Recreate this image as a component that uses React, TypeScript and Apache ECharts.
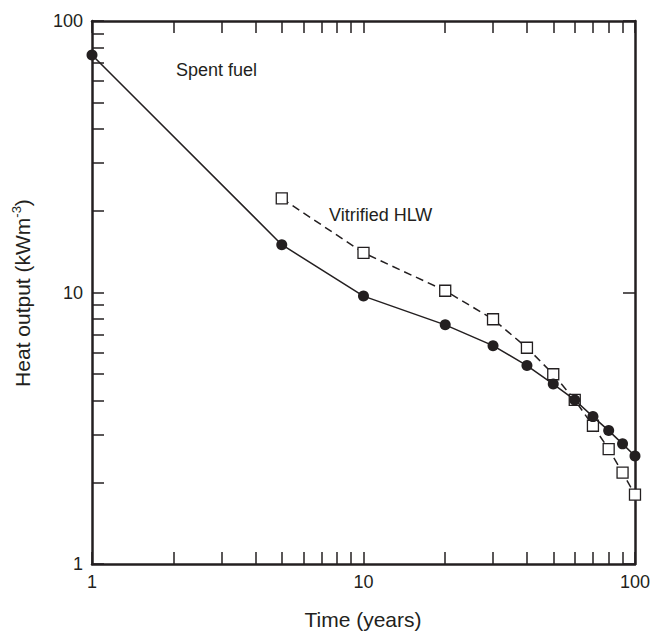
import React, { useEffect, useRef } from "react";
import * as echarts from "echarts";

const years = [1, 5, 10, 20, 30, 40, 50, 60, 70, 80, 90, 100];
const spentFuel = [75, 15.0, 9.7, 7.6, 6.37, 5.38, 4.6, 4.02, 3.49, 3.1, 2.77, 2.5];
const hlwYears = [5, 10, 20, 30, 40, 50, 60, 70, 80, 90, 100];
const vitrifiedHLW = [22.2, 14.0, 10.15, 7.97, 6.26, 5.0, 4.02, 3.23, 2.65, 2.17, 1.8];
const majorTicks = [1, 10, 100];
const allTicks = [1, 2, 3, 4, 5, 6, 7, 8, 9, 10, 20, 30, 40, 50, 60, 70, 80, 90, 100];

const INK = "#231f20";
const FONT = "Liberation Sans, Arial, Helvetica, sans-serif";

export default function App() {
  const ref = useRef<HTMLDivElement>(null);
  useEffect(() => {
    if (!ref.current) return;
    const chart = echarts.init(ref.current, undefined, { renderer: "svg" });
    const axisBase = (showLabels: boolean, ticks: number[], position: string) => ({
      type: "log" as const,
      logBase: 10,
      min: 1,
      max: 100,
      position,
      axisLine: { show: true, onZero: false, lineStyle: { color: INK, width: 2.5 } },
      axisTick: {
        show: true,
        inside: true,
        length: 12,
        customValues: ticks,
        lineStyle: { color: INK, width: 1.5 },
      },
      axisLabel: {
        show: showLabels,
        customValues: majorTicks,
        margin: 9,
        color: INK,
        fontSize: 18,
        fontFamily: FONT,
      },
      splitLine: { show: false },
      minorTick: { show: false },
      minorSplitLine: { show: false },
    });
    chart.setOption({
      animation: false,
      backgroundColor: "#ffffff",
      grid: { left: 92, right: 17, top: 21, bottom: 67, containLabel: false },
      xAxis: [
        { ...axisBase(true, allTicks, "bottom") },
        { ...axisBase(false, allTicks, "top") },
      ],
      yAxis: [
        { ...axisBase(true, allTicks, "left") },
        { ...axisBase(false, majorTicks, "right") },
      ],
      series: [
        {
          name: "Vitrified HLW",
          type: "line",
          data: hlwYears.map((x, i) => [x, vitrifiedHLW[i]]),
          symbol: "rect",
          symbolSize: 11,
          showAllSymbol: true,
          lineStyle: { color: INK, width: 1.5, type: [8, 5] },
          itemStyle: { color: "#ffffff", borderColor: INK, borderWidth: 1.3 },
          z: 2,
        },
        {
          name: "Spent fuel",
          type: "line",
          data: years.map((x, i) => [x, spentFuel[i]]),
          symbol: "circle",
          symbolSize: 11,
          showAllSymbol: true,
          lineStyle: { color: INK, width: 1.5 },
          itemStyle: { color: INK, borderColor: INK, borderWidth: 0 },
          z: 3,
        },
      ],
      graphic: [
        {
          type: "text",
          left: 176,
          top: 61,
          style: { text: "Spent fuel", fill: INK, font: `18px ${FONT}` },
        },
        {
          type: "text",
          left: 329,
          top: 206,
          style: { text: "Vitrified HLW", fill: INK, font: `18px ${FONT}` },
        },
        {
          type: "text",
          x: 363,
          y: 619,
          style: {
            text: "Time (years)",
            fill: INK,
            font: `21px ${FONT}`,
            align: "center",
            verticalAlign: "middle",
          },
        },
        {
          type: "text",
          x: 21,
          y: 293,
          rotation: Math.PI / 2,
          style: {
            text: "{a|Heat output (kWm}{b|-3}{a|)}",
            align: "center",
            verticalAlign: "middle",
            rich: {
              a: { fontSize: 21, fontFamily: FONT, fill: INK, color: INK, verticalAlign: "bottom" },
              b: { fontSize: 13, fontFamily: FONT, fill: INK, color: INK, verticalAlign: "top", padding: [0, 0, 10, 0] },
            },
          },
        },
      ],
    });
    return () => chart.dispose();
  }, []);
  return (
    <div
      ref={ref}
      style={{ position: "fixed", left: 0, top: 0, width: 653, height: 631, background: "#fff" }}
    />
  );
}
